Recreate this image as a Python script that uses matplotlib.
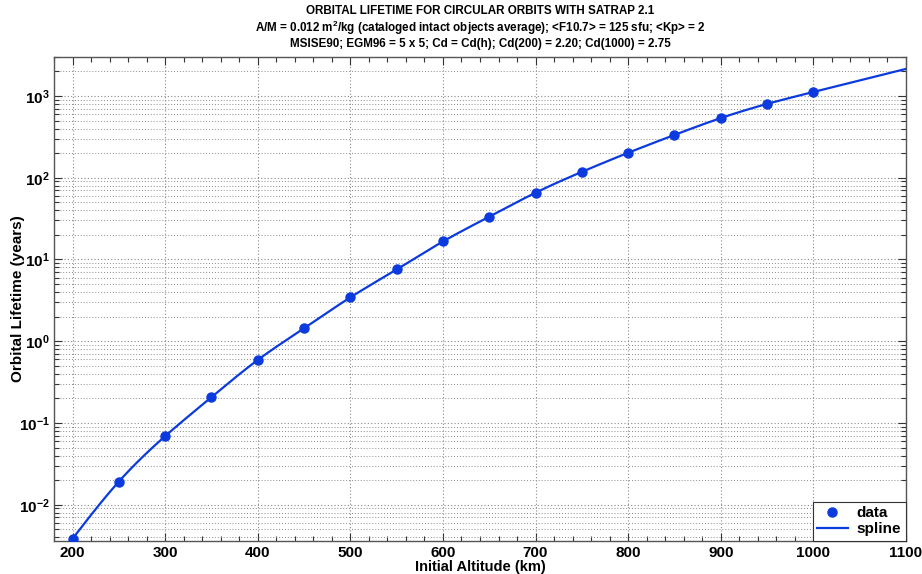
import numpy as np
import matplotlib
matplotlib.use("Agg")
import matplotlib.pyplot as plt
from matplotlib.ticker import MultipleLocator, FixedLocator, FuncFormatter, NullFormatter

# ---- data ----
altitude_km = [200, 250, 300, 350, 400, 450, 500, 550, 600, 650, 700, 750, 800, 850, 900, 950, 1000]
lifetime_years = [0.00385, 0.0192, 0.069, 0.207, 0.59, 1.44, 3.44, 7.55, 16.6, 33.4, 65.6, 118,
                  202, 334, 537, 800, 1120]
x_ticks = [200, 300, 400, 500, 600, 700, 800, 900, 1000, 1100]
y_decades = [-2, -1, 0, 1, 2, 3]
title_lines = [
    "ORBITAL LIFETIME FOR CIRCULAR ORBITS WITH SATRAP 2.1",
    "A/M = 0.012 m$^\\mathbf{2}$/kg (cataloged intact objects average); <F10.7> = 125 sfu; <Kp> = 2",
    "MSISE90; EGM96 = 5 x 5; Cd = Cd(h); Cd(200) = 2.20; Cd(1000) = 2.75",
]


def natural_cubic_spline(x, y, xq):
    x = np.asarray(x, float); y = np.asarray(y, float); xq = np.asarray(xq, float)
    n = len(x)
    h = np.diff(x)
    A = np.zeros((n, n)); b = np.zeros(n)
    A[0, 0] = 1; A[-1, -1] = 1
    for i in range(1, n - 1):
        A[i, i - 1] = h[i - 1]
        A[i, i] = 2 * (h[i - 1] + h[i])
        A[i, i + 1] = h[i]
        b[i] = 3 * ((y[i + 1] - y[i]) / h[i] - (y[i] - y[i - 1]) / h[i - 1])
    c = np.linalg.solve(A, b)
    bb = (y[1:] - y[:-1]) / h - h * (2 * c[:-1] + c[1:]) / 3
    d = (c[1:] - c[:-1]) / (3 * h)
    out = np.empty_like(xq)
    for k, xv in enumerate(xq):
        if xv <= x[0]:
            out[k] = y[0] + bb[0] * (xv - x[0])
        elif xv >= x[-1]:
            i = n - 2
            dx = h[i]
            slope = bb[i] + 2 * c[i] * dx + 3 * d[i] * dx ** 2
            out[k] = y[-1] + slope * (xv - x[-1])
        else:
            i = np.searchsorted(x, xv) - 1
            dx = xv - x[i]
            out[k] = y[i] + bb[i] * dx + c[i] * dx ** 2 + d[i] * dx ** 3
    return out


plt.rcParams['font.family'] = ['Liberation Sans', 'DejaVu Sans']
plt.rcParams['font.weight'] = 'bold'
plt.rcParams['mathtext.fontset'] = 'custom'
plt.rcParams['mathtext.rm'] = 'Liberation Sans:bold'
plt.rcParams['mathtext.bf'] = 'Liberation Sans:bold'

fig = plt.figure(figsize=(9.22, 5.74), dpi=100)
ax = fig.add_axes([0.0586, 0.0575, 0.924, 0.8432])

blue = '#0b3ade'
xs = np.linspace(180, 1100, 500)
ys = 10 ** natural_cubic_spline(altitude_km, np.log10(lifetime_years), xs)
ax.plot(altitude_km, lifetime_years, 'o', color=blue, markersize=6.5, label='data', zorder=4)
ax.plot(xs, ys, '-', color=blue, lw=1.6, label='spline', zorder=3)

ax.set_yscale('log')
ax.set_xlim(180, 1100)
ax.set_ylim(0.0036, 3000)

ax.xaxis.set_major_locator(FixedLocator(x_ticks))
ax.xaxis.set_minor_locator(MultipleLocator(20))
major_y = [10.0 ** e for e in y_decades]
minor_y = [m * 10.0 ** e for e in [-3] + y_decades for m in range(2, 10)]
minor_y = [v for v in minor_y if 0.0036 <= v <= 3000]
ax.yaxis.set_major_locator(FixedLocator(major_y))
ax.yaxis.set_minor_locator(FixedLocator(minor_y))
ax.yaxis.set_minor_formatter(NullFormatter())
ax.yaxis.set_major_formatter(FuncFormatter(lambda v, p: '$\\mathbf{10^{%d}}$' % int(round(np.log10(v)))))

ax.grid(True, which='major', axis='both', linestyle=(0, (1, 2)), color='#8a8a8a', lw=0.8)
ax.grid(True, which='minor', axis='y', linestyle=(0, (1, 2)), color='#8a8a8a', lw=0.7)

ax.tick_params(which='both', direction='in', top=True, right=True, colors='#333333',
               labelcolor='black', labelsize=11)
ax.tick_params(which='major', length=6, width=0.8)
ax.tick_params(which='minor', length=3.5, width=0.8)
ax.tick_params(axis='y', which='major', pad=3)
for s in ax.spines.values():
    s.set_color('#555555')
    s.set_linewidth(1.0)

ax.set_xlabel('Initial Altitude (km)', fontsize=10.5, fontweight='bold', labelpad=0)
ax.set_ylabel('Orbital Lifetime (years)', fontsize=11, fontweight='bold')
ax.yaxis.set_label_coords(-0.034, 0.5)

for txt, ypix in zip(title_lines, [11, 28, 44]):
    ax.text(0.5, 1 - ypix / 574, txt, transform=matplotlib.transforms.blended_transform_factory(ax.transAxes, fig.transFigure),
            ha='center', va='center', fontsize=8.4, fontweight='bold')

leg = ax.legend(loc='lower right', fontsize=11, frameon=True, fancybox=False, borderaxespad=0,
                handlelength=2.0, handletextpad=0.6, borderpad=0.3, labelspacing=0.15)
leg.get_frame().set_edgecolor('#333333')
leg.get_frame().set_linewidth(0.8)
leg.get_frame().set_alpha(1)

fig.savefig('out.png', dpi=100)
